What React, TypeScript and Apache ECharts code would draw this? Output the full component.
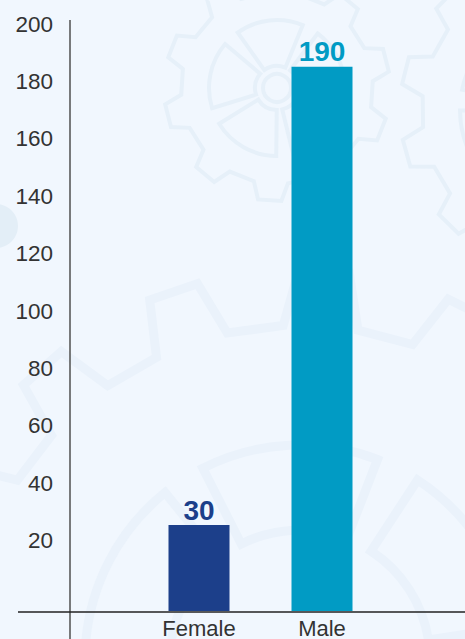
import React, { useEffect, useRef } from "react";
import * as echarts from "echarts";

const categories = ["Female", "Male"];
const values = [30, 190];
const barColors = ["#1c3f8a", "#019bc4"];
const yTicks = [0, 20, 40, 60, 80, 100, 120, 140, 160, 180, 200];

const BG = "#f1f7fe";
const GEAR = "#e6f0f9";

function gearPoints(cx: number, cy: number, tip: number, root: number, n: number, phase: number) {
  const pts: number[][] = [];
  const step = (Math.PI * 2) / n;
  for (let i = 0; i < n; i++) {
    const a = phase + i * step;
    const angs = [
      [a, root],
      [a + step * 0.12, tip],
      [a + step * 0.45, tip],
      [a + step * 0.57, root],
    ];
    for (const [ang, rr] of angs) {
      pts.push([cx + rr * Math.cos(ang), cy + rr * Math.sin(ang)]);
    }
  }
  return pts;
}

function gear(cx: number, cy: number, tip: number, root: number, n: number, phase: number,
  r0: number, r1: number, segs: number, hub: number, lw: number, color: string) {
  const els: any[] = [];
  els.push({
    type: "polygon", silent: true, z: 0,
    shape: { points: gearPoints(cx, cy, tip, root, n, phase) },
    style: { fill: "none", stroke: color, lineWidth: lw },
  });
  const segStep = (Math.PI * 2) / segs;
  for (let i = 0; i < segs; i++) {
    const s = phase + i * segStep + segStep * 0.1;
    els.push({
      type: "sector", silent: true, z: 0,
      shape: { cx, cy, r0, r: r1, startAngle: s, endAngle: s + segStep * 0.8 },
      style: { fill: "none", stroke: color, lineWidth: lw },
    });
  }
  if (hub > 0) {
    els.push({
      type: "circle", silent: true, z: 0,
      shape: { cx, cy, r: hub },
      style: { fill: "none", stroke: color, lineWidth: lw },
    });
  }
  return els;
}

export default function App() {
  const ref = useRef<HTMLDivElement>(null);
  useEffect(() => {
    if (!ref.current) return;
    const chart = echarts.init(ref.current, null, { renderer: "svg" });
    const graphics: any[] = [
      ...gear(277, 88, 113, 96, 10, 0.2, 22, 68, 5, 14, 4, GEAR),
      ...gear(560, 110, 160, 138, 12, 0.1, 30, 100, 6, 20, 4, GEAR),
      ...gear(300, 660, 390, 335, 16, -0.05, 130, 215, 6, 0, 9, "#eaf2fb"),
      {
        type: "circle", silent: true, z: 0,
        shape: { cx: -4, cy: 226, r: 22 },
        style: { fill: "#e3eef7" },
      },
      {
        type: "line", silent: true, z: 10,
        shape: { x1: 70, y1: 20, x2: 70, y2: 639 },
        style: { stroke: "#5a5a5a", lineWidth: 1.6 },
      },
      {
        type: "line", silent: true, z: 10,
        shape: { x1: 18, y1: 612, x2: 465, y2: 612 },
        style: { stroke: "#222222", lineWidth: 1.3 },
      },
    ];
    const yMin = yTicks[0];
    const yMax = yTicks[yTicks.length - 1];
    const yStep = yTicks[1] - yTicks[0];
    chart.setOption({
      animation: false,
      backgroundColor: BG,
      grid: [
        { left: 137.5, right: 81.5, top: 38, bottom: 27, containLabel: false },
        { left: 70, right: 0, top: 24, bottom: 41, containLabel: false },
      ],
      xAxis: [
        {
          type: "category",
          gridIndex: 0,
          data: categories,
          axisLine: { show: false },
          axisTick: { show: false },
          splitLine: { show: false },
          axisLabel: {
            fontSize: 22,
            color: "#333333",
            fontFamily: "'Liberation Sans', Arial, sans-serif",
            margin: 6,
          },
        },
        { type: "value", gridIndex: 1, show: false, min: 0, max: 1 },
      ],
      yAxis: [
        {
          type: "value",
          gridIndex: 0,
          min: yMin,
          max: yMax,
          interval: yStep,
          show: false,
        },
        {
          type: "value",
          gridIndex: 1,
          min: yMin,
          max: yMax,
          interval: yStep,
          axisLine: { show: false },
          axisTick: { show: false },
          splitLine: { show: false },
          axisLabel: {
            fontSize: 22.5,
            color: "#333333",
            fontFamily: "'Liberation Sans', Arial, sans-serif",
            margin: 17,
            formatter: (v: number) => (v === 0 ? "" : String(v)),
          },
        },
      ],
      series: [
        {
          type: "bar",
          xAxisIndex: 0,
          yAxisIndex: 0,
          barWidth: 61,
          data: values.map((v, i) => ({
            value: v,
            itemStyle: { color: barColors[i] },
            label: { color: barColors[i] },
          })),
          label: {
            show: true,
            position: "top",
            distance: 1,
            fontSize: 28,
            fontWeight: "bold",
            fontFamily: "'Liberation Sans', Arial, sans-serif",
          },
        },
      ],
      graphic: graphics,
    });
    return () => chart.dispose();
  }, []);
  return (
    <div
      ref={ref}
      style={{ position: "fixed", left: 0, top: 0, width: 465, height: 639 }}
    />
  );
}
